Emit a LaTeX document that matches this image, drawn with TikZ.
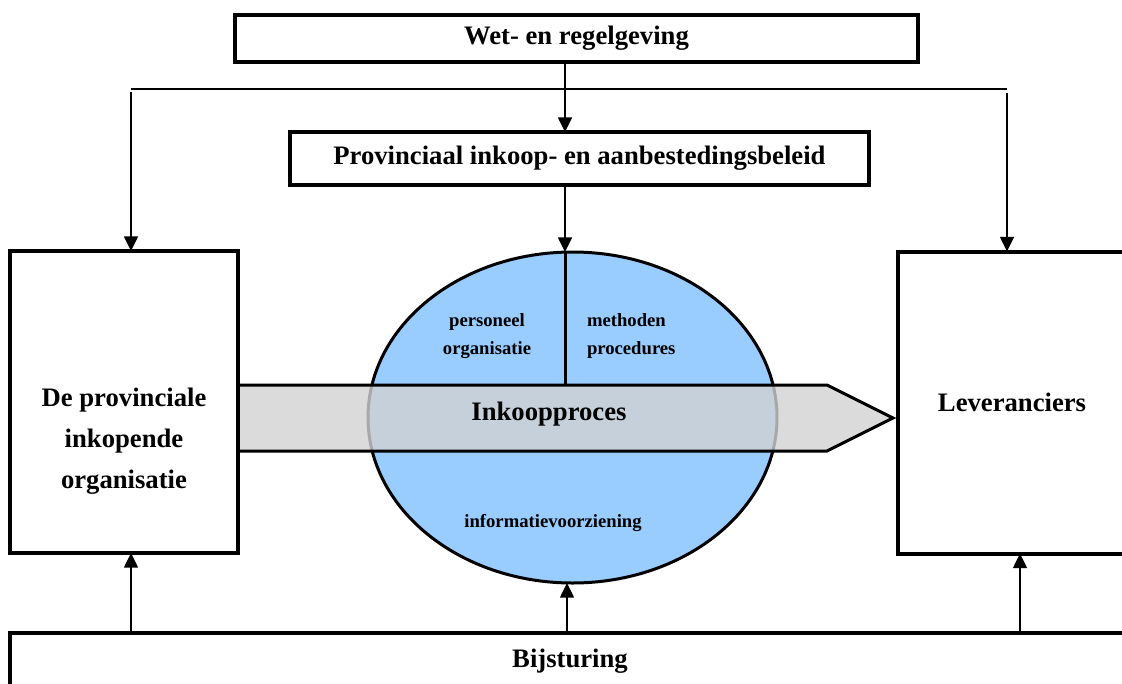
\documentclass[tikz,border=0pt]{standalone}
\usepackage{fontspec}
\setmainfont{Liberation Serif}
\usetikzlibrary{arrows.meta,shapes.geometric}
\definecolor{ovalblue}{HTML}{99CCFF}

\begin{document}
\begin{tikzpicture}[x=0.75pt,y=-0.75pt,inner sep=0pt,outer sep=0pt,
>={Triangle[width=10.5pt,length=11pt]},
flow/.style={line width=1.1pt},
box/.style={draw,rectangle,line width=3pt,font=\fontsize{20}{30.75}\selectfont\bfseries},
boxtext/.style={font=\fontsize{20}{30.75}\selectfont\bfseries},
small/.style={font=\fontsize{14}{21}\selectfont\bfseries},
band/.style={draw,line width=2.25pt,fill=gray!35,fill opacity=0.8}]

\useasboundingbox (0,0) rectangle (1122,683);

\coordinate (mid) at (565,0);
\coordinate (midlow) at (567,0);
\coordinate (rlow) at (1020,0);
\coordinate (hl) at (131,89);
\coordinate (hr) at (1007,89);
\coordinate (bandnw) at (238,385);

\draw (576.5,38.5) node[box,minimum width=512.25pt,minimum height=35.25pt] (wet) {Wet- en regelgeving};
\draw (579.5,158.5) node[box,minimum width=434.25pt,minimum height=39.75pt] (prov) {Provinciaal inkoop- en aanbestedingsbeleid};

% het proces
\draw (572.5,417.5) node[draw,ellipse,fill=ovalblue,line width=2.25pt,minimum width=306.75pt,minimum height=248.25pt] (ell) {};
\draw[line width=2.25pt] (ell.north -| mid) -- (bandnw -| mid);
\draw[band] (bandnw) -- (827,385) -- (893,418) coordinate (bandtip) -- (827,451) -- (238,451) -- cycle;
\draw (487,336) node[small,align=center] (pers) {personeel\\organisatie};
\draw (587,336) node[small,align=left,anchor=west] (meth) {methoden\\procedures};
\draw (549,414.5) node[boxtext] (proc) {Inkoopproces};
\draw (553,527) node[small,anchor=base] (info) {informatievoorziening};

\draw (124,402) node[box,minimum width=171pt,minimum height=226.5pt] (org) {};
\draw (124,441) node[boxtext,align=center] (orgtext) {De provinciale\\inkopende\\organisatie};
\draw (1012,402.5) node[box,minimum width=171pt,minimum height=226.5pt] (lev) {Leveranciers};
\draw (570,661) node[box,minimum width=840pt,minimum height=42pt] (bij) {Bijsturing};

\draw[flow] (hl) -- (hr);
\draw[flow,->] ([yshift=-2.25pt]hl) -- (org.north -| hl);
\draw[flow,->] ([yshift=-3pt]hr) -- (lev.north -| hr);
\draw[flow,->] (wet.south -| mid) -- (prov.north -| mid);
\draw[flow,->] (prov.south -| mid) -- (ell.north -| mid);
\draw[flow,->] (bij.north -| hl) -- (org.south -| hl);
\draw[flow,->] (bij.north -| midlow) -- (ell.south -| midlow);
\draw[flow,->] (bij.north -| rlow) -- (lev.south -| rlow);
\end{tikzpicture}
\end{document}
